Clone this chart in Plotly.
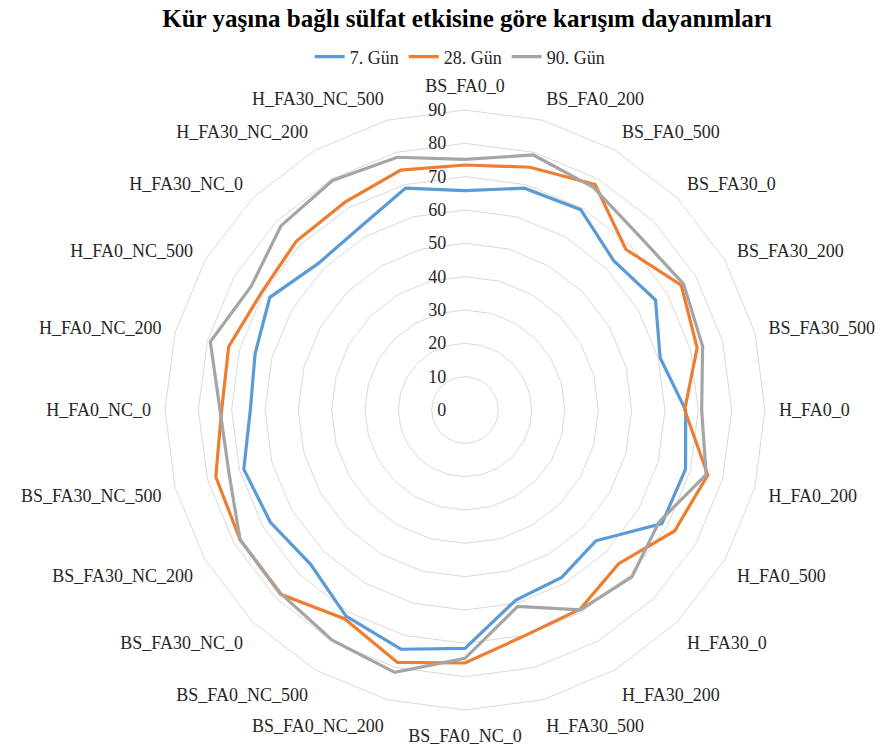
import plotly.graph_objects as go

categories = ["BS_FA0_0", "BS_FA0_200", "BS_FA0_500", "BS_FA30_0", "BS_FA30_200", "BS_FA30_500",
              "H_FA0_0", "H_FA0_200", "H_FA0_500", "H_FA30_0", "H_FA30_200", "H_FA30_500",
              "BS_FA0_NC_0", "BS_FA0_NC_200", "BS_FA0_NC_500", "BS_FA30_NC_0", "BS_FA30_NC_200",
              "BS_FA30_NC_500", "H_FA0_NC_0", "H_FA0_NC_200", "H_FA0_NC_500", "H_FA30_NC_0",
              "H_FA30_NC_200", "H_FA30_NC_500"]

gun7 = [65.8, 68.9, 69.4, 63.2, 66.0, 60.6, 66.2, 68.5, 68.2, 55.5, 58.0, 59.0,
        71.5, 74.3, 71.4, 65.5, 67.4, 68.7, 64.4, 65.2, 67.6, 62.2, 63.2, 68.9]
gun28 = [73.5, 75.4, 78.1, 68.2, 74.9, 72.1, 65.9, 75.4, 72.6, 65.2, 69.0, 70.0,
         75.9, 78.4, 72.3, 78.2, 77.9, 77.4, 73.0, 73.4, 70.5, 71.6, 72.0, 74.5]
gun90 = [75.2, 79.2, 77.1, 73.9, 75.7, 73.8, 71.0, 74.9, 67.2, 70.8, 69.2, 61.0,
         74.5, 81.5, 79.7, 78.0, 77.9, 73.3, 73.5, 79.1, 74.1, 78.1, 79.5, 78.5]

series_names = ["7. Gün", "28. Gün", "90. Gün"]
series_values = [gun7, gun28, gun90]
colors = ["#5B9BD5", "#ED7D31", "#A5A5A5"]

radial_ticks = list(range(0, 100, 10))

W, H = 884, 747
cx, cy, R = 465, 410, 300

fig = go.Figure()
for name, vals, col in zip(series_names, series_values, colors):
    fig.add_trace(go.Scatterpolar(
        r=vals + [vals[0]],
        theta=categories + [categories[0]],
        mode="lines",
        name=name,
        line=dict(color=col, width=3.2),
    ))

font_family = "Liberation Serif, Times New Roman, serif"
txt_col = "#262626"

fig.update_layout(
    width=W, height=H,
    margin=dict(l=0, r=0, t=0, b=0),
    paper_bgcolor="white",
    plot_bgcolor="white",
    font=dict(family=font_family, size=18, color=txt_col),
    title=dict(text="<b>Kür yaşına bağlı sülfat etkisine göre karışım dayanımları</b>",
               x=467 / W, xanchor="center", y=1 - 18 / H, yanchor="middle",
               font=dict(family=font_family, size=25, color="black")),
    legend=dict(orientation="h", x=0.52, xanchor="center", y=1 - 57 / H, yanchor="middle",
                font=dict(family=font_family, size=18, color=txt_col),
                itemwidth=30, tracegroupgap=0),
    polar=dict(
        domain=dict(x=[(cx - R) / W, (cx + R) / W], y=[(H - cy - R) / H, (H - cy + R) / H]),
        gridshape="linear",
        bgcolor="white",
        angularaxis=dict(direction="clockwise", rotation=90, showgrid=False,
                         showline=True, linecolor="#D9D9D9", linewidth=1,
                         ticks="outside", ticklen=10, tickcolor="rgba(0,0,0,0)",
                         tickfont=dict(family=font_family, size=18, color=txt_col)),
        radialaxis=dict(range=[0, 90], tickvals=radial_ticks, angle=90, tickangle=90,
                        side="counterclockwise", showline=False,
                        ticks="outside", ticklen=12, tickcolor="rgba(0,0,0,0)",
                        gridcolor="#D9D9D9", gridwidth=1,
                        tickfont=dict(family=font_family, size=18, color=txt_col)),
    ),
)

fig.write_html("out.html")
